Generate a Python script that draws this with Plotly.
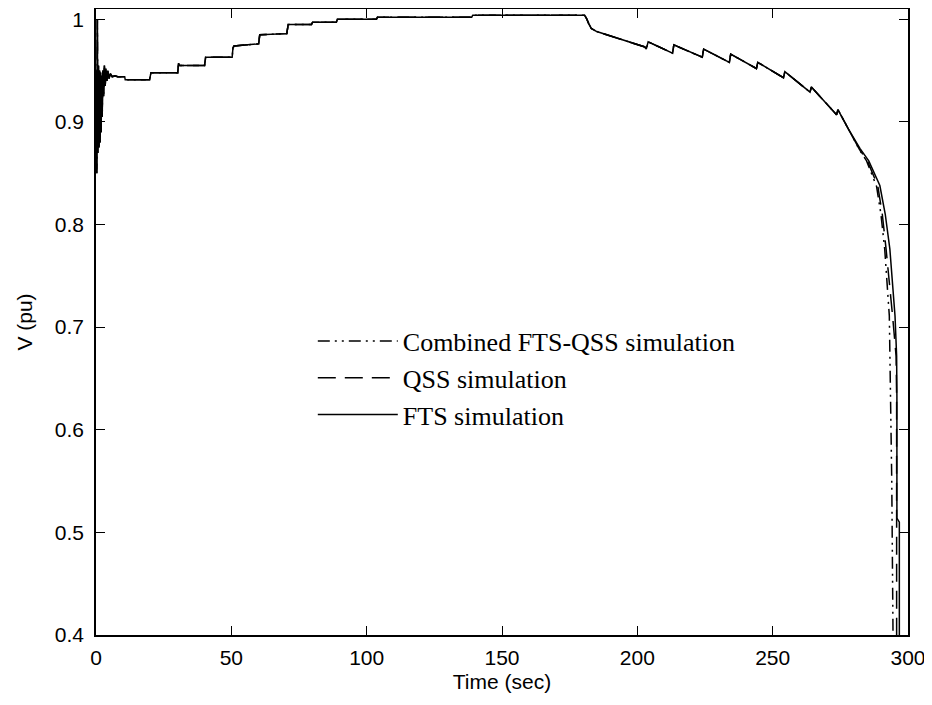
import plotly.graph_objects as go

# ---- data ----
# initial transient
t_transient = [0, 0.3, 0.5, 0.7, 0.9, 1.1, 1.3, 1.5, 1.7, 1.9, 2.1, 2.3, 2.5, 2.8, 3.1, 3.4, 3.7, 4.0, 4.4, 4.8, 5.3, 6.0, 7.0]
v_transient = [0.95, 0.85, 1.0, 0.87, 0.955, 0.875, 0.95, 0.88, 0.948, 0.89, 0.945, 0.905, 0.95, 0.925, 0.955, 0.935, 0.952, 0.94, 0.95, 0.942, 0.947, 0.944, 0.945]

# shared quasi-steady part (tap-changer steps)
t_common = [8, 10.6, 10.8, 19.8, 20.3, 30.2, 30.5, 30.8, 40.1, 40.5, 50.3, 50.6, 51.0, 60.1, 60.5, 70.5, 71.0, 79.6, 80.0, 88.8, 89.2, 103.6, 104.0,
            138.8, 139.2, 180.5, 181.2, 182.0, 183.0, 185.0, 187.3, 195.0, 202.8, 203.3, 204.0,
            213.0, 213.5, 224.0, 224.5, 234.0, 234.5, 244.0, 244.5, 254.0, 254.5, 263.8, 264.3, 273.6, 274.1, 278.0]
v_common = [0.944, 0.944, 0.941, 0.941, 0.948, 0.948, 0.957, 0.955, 0.955, 0.963, 0.963, 0.972, 0.974, 0.976, 0.985, 0.986, 0.995, 0.995, 0.997, 0.997, 1.0, 1.0, 1.002,
            1.002, 1.004, 1.004, 1.001, 0.996, 0.991, 0.988, 0.986, 0.980, 0.973, 0.971, 0.978,
            0.967, 0.975, 0.963, 0.971, 0.958, 0.966, 0.952, 0.958, 0.943, 0.949, 0.929, 0.934, 0.907, 0.912, 0.893]

# collapse tails
t_combined = [282.0, 284.7, 288.4, 290.0, 291.4, 293.1, 293.5, 294.0, 294.5]
v_combined = [0.873, 0.862, 0.837, 0.81, 0.776, 0.711, 0.633, 0.55, 0.39]

t_qss = [282.1, 285.0, 288.8, 290.5, 291.9, 294.3, 295.6, 295.8, 295.8]
v_qss = [0.873, 0.862, 0.838, 0.81, 0.776, 0.711, 0.672, 0.633, 0.39]

t_fts = [282.3, 285.5, 289.6, 291.6, 293.3, 295.2, 295.8, 295.9, 295.9, 296.8, 296.8]
v_fts = [0.874, 0.862, 0.838, 0.81, 0.776, 0.711, 0.672, 0.633, 0.514, 0.51, 0.39]

series_names = ["Combined FTS-QSS simulation", "QSS simulation", "FTS simulation"]

x_ticks = [0, 50, 100, 150, 200, 250, 300]
y_ticks = [0.4, 0.5, 0.6, 0.7, 0.8, 0.9, 1.0]
y_tick_labels = ["0.4", "0.5", "0.6", "0.7", "0.8", "0.9", "1"]

base_t = t_transient + t_common
base_v = v_transient + v_common

fig = go.Figure()
dashes = ["12px,5px,2px,5px,2px,5px", "18px,9px", "solid"]
tails = [(t_combined, v_combined), (t_qss, v_qss), (t_fts, v_fts)]
for name, dash, (tt, vv) in zip(series_names, dashes, tails):
    fig.add_trace(go.Scatter(
        x=base_t + tt, y=base_v + vv, mode="lines", name=name,
        line=dict(color="black", width=1.5, dash=dash),
    ))

axis_common = dict(
    showgrid=False, zeroline=False, showline=True, linecolor="black", linewidth=1.5,
    mirror="ticks", ticks="inside", ticklen=9, tickwidth=1.3, tickcolor="black",
    tickfont=dict(family="Liberation Sans, Arial, sans-serif", size=21, color="black"),
    title_font=dict(family="Liberation Sans, Arial, sans-serif", size=21, color="black"),
    automargin=False, ticklabeloverflow="allow",
)

fig.update_xaxes(range=[0, 300], tickvals=x_ticks, title_text="Time (sec)", title_standoff=6,
                 ticklabelstandoff=3, **axis_common)
fig.update_yaxes(range=[0.4, 1.01], tickvals=y_ticks, ticktext=y_tick_labels, title_text="V (pu)",
                 title_standoff=16, ticklabelstandoff=6, **axis_common)

fig.update_layout(
    width=932, height=705,
    margin=dict(l=88, r=32, t=1, b=78),
    plot_bgcolor="white", paper_bgcolor="white",
    showlegend=True,
    legend=dict(
        x=0.267, y=0.507, xanchor="left", yanchor="top",
        bgcolor="rgba(0,0,0,0)", borderwidth=0,
        font=dict(family="Liberation Serif, Times New Roman, serif", size=26, color="black"),
        itemwidth=80, tracegroupgap=0,
    ),
)

fig.write_html("out.html")
